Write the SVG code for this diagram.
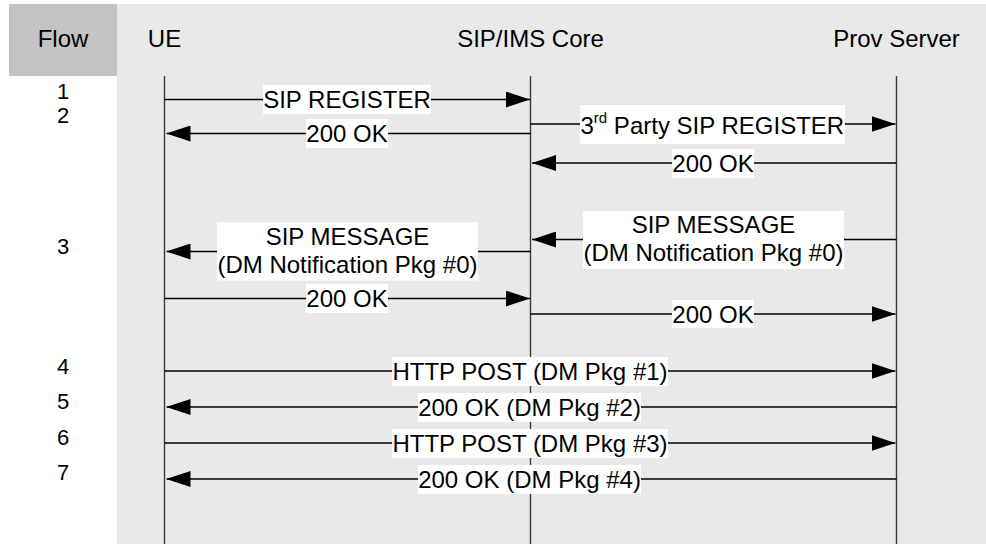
<svg xmlns="http://www.w3.org/2000/svg" width="986" height="544" viewBox="0 0 986 544">
<style>
  text { font-family: "Liberation Sans", Arial, sans-serif; fill: #000; }
  .hdr { font-size: 24px; text-anchor: middle; }
  .num { font-size: 22px; text-anchor: middle; }
  .lbl { font-size: 24px; text-anchor: middle; }
  .lbg { fill: #ffffff; }
  .life { stroke: #3a3a3a; stroke-width: 1.4; fill: none; }
  .msg { stroke: #000; stroke-width: 1.5; fill: none; }
  .arr { marker-end: url(#ah); }
</style>
<defs>
  <marker id="ah" viewBox="0 0 24 16" refX="24" refY="8" markerWidth="24" markerHeight="16" markerUnits="userSpaceOnUse" orient="auto">
    <path d="M0,0 L24,8 L0,16 z" fill="#000"/>
  </marker>
</defs>
<rect x="0" y="0" width="986" height="544" fill="#ffffff"/>
<rect x="117" y="4" width="869" height="540" fill="#e9e9e9"/>
<g id="flow-col">
  <rect x="9" y="4" width="108" height="72" fill="#c3c3c3"/>
  <text class="hdr" x="63" y="47">Flow</text>
  <text class="num" x="63" y="99">1</text>
  <text class="num" x="63" y="123">2</text>
  <text class="num" x="63" y="253.5">3</text>
  <text class="num" x="63" y="373.5">4</text>
  <text class="num" x="63" y="408.5">5</text>
  <text class="num" x="63" y="445">6</text>
  <text class="num" x="63" y="480">7</text>
</g>
<g id="ue">
  <text class="hdr" x="164.5" y="47">UE</text>
  <line class="life" x1="164.5" y1="76" x2="164.5" y2="544"/>
</g>
<g id="core">
  <text class="hdr" x="530.5" y="47">SIP/IMS Core</text>
  <line class="life" x1="530.5" y1="76" x2="530.5" y2="544"/>
</g>
<g id="prov">
  <text class="hdr" x="896.5" y="47">Prov Server</text>
  <line class="life" x1="896.5" y1="76" x2="896.5" y2="544"/>
</g>
<g id="connectors">
  <g id="m1">
    <path class="msg arr" d="M164.5,99.5 H530"/>
    <rect class="lbg" x="263" y="85" width="168" height="29"/>
    <text class="lbl" x="347" y="108">SIP REGISTER</text>
  </g>
  <g id="m2">
    <path class="msg arr" d="M531,133.5 H166.5"/>
    <rect class="lbg" x="306" y="119" width="82" height="29"/>
    <text class="lbl" x="347" y="142">200 OK</text>
  </g>
  <g id="m3">
    <path class="msg arr" d="M530.5,124 H895.5"/>
    <rect class="lbg" x="580" y="105" width="265" height="39"/>
    <text class="lbl" x="580.5" y="133.5" style="text-anchor:start">3<tspan dy="-11" font-size="15">rd</tspan><tspan dy="11"> Party SIP REGISTER</tspan></text>
  </g>
  <g id="m4">
    <path class="msg arr" d="M896.5,163 H532"/>
    <rect class="lbg" x="672" y="149" width="82" height="29"/>
    <text class="lbl" x="713" y="171.5">200 OK</text>
  </g>
  <g id="m5">
    <path class="msg arr" d="M896.5,239.5 H532"/>
    <rect class="lbg" x="583" y="211" width="261" height="58"/>
    <text class="lbl" x="713.5" y="233">SIP MESSAGE</text>
    <text class="lbl" x="713.5" y="261">(DM Notification Pkg #0)</text>
  </g>
  <g id="m6">
    <path class="msg arr" d="M530.5,251.5 H166.5"/>
    <rect class="lbg" x="217" y="222.5" width="261" height="58"/>
    <text class="lbl" x="347.5" y="244.5">SIP MESSAGE</text>
    <text class="lbl" x="347.5" y="272.5">(DM Notification Pkg #0)</text>
  </g>
  <g id="m7">
    <path class="msg arr" d="M164.5,298.5 H530"/>
    <rect class="lbg" x="306" y="284" width="82" height="29"/>
    <text class="lbl" x="347" y="307">200 OK</text>
  </g>
  <g id="m8">
    <path class="msg arr" d="M530.5,314 H895.5"/>
    <rect class="lbg" x="672" y="300" width="82" height="28"/>
    <text class="lbl" x="713" y="322.5">200 OK</text>
  </g>
  <g id="m9">
    <path class="msg arr" d="M164.5,371 H895.5"/>
    <rect class="lbg" x="392" y="357" width="276" height="29"/>
    <text class="lbl" x="530" y="379.5">HTTP POST (DM Pkg #1)</text>
  </g>
  <g id="m10">
    <path class="msg arr" d="M896.5,407 H166.5"/>
    <rect class="lbg" x="418" y="393" width="223" height="29"/>
    <text class="lbl" x="529.5" y="415.5">200 OK (DM Pkg #2)</text>
  </g>
  <g id="m11">
    <path class="msg arr" d="M164.5,443 H895.5"/>
    <rect class="lbg" x="392" y="429" width="276" height="29"/>
    <text class="lbl" x="530" y="451.5">HTTP POST (DM Pkg #3)</text>
  </g>
  <g id="m12">
    <path class="msg arr" d="M896.5,479 H166.5"/>
    <rect class="lbg" x="418" y="465" width="223" height="29"/>
    <text class="lbl" x="529.5" y="487.5">200 OK (DM Pkg #4)</text>
  </g>
</g>
</svg>
